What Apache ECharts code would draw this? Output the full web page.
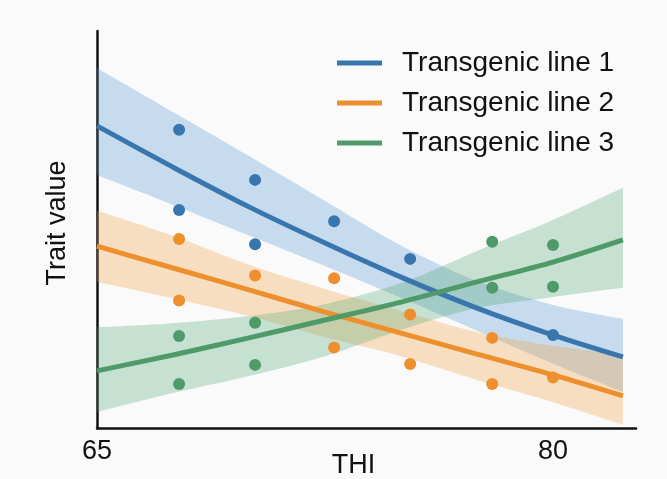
<!DOCTYPE html>
<html>
<head>
<meta charset="utf-8">
<script src="https://cdn.jsdelivr.net/npm/echarts@6/dist/echarts.min.js"></script>
<style>html,body{margin:0;padding:0;background:#ffffff}#c{width:667px;height:479px}</style>
</head>
<body>
<div id="c"></div>
<script>
// ---- data ----
const seriesNames = ['Transgenic line 1', 'Transgenic line 2', 'Transgenic line 3'];
const xTickLabels = [65, 80];
// x positions at which fitted curves and confidence bands are read
const fitX = [65, 67.5, 70, 72.5, 75, 77.5, 80, 82.3];

const fit1 = [7.61, 6.57, 5.57, 4.66, 3.80, 3.02, 2.34, 1.79];
const upper1 = [9.07, 7.96, 6.85, 5.72, 4.60, 3.70, 3.10, 2.75];
const lower1 = [6.37, 5.62, 4.85, 4.08, 3.28, 2.45, 1.62, 0.91];

const fit2 = [4.58, 4.03, 3.48, 2.92, 2.39, 1.86, 1.34, 0.81];
const upper2 = [5.47, 4.84, 4.11, 3.50, 2.95, 2.42, 2.07, 1.84];
const lower2 = [3.68, 3.27, 2.82, 2.29, 1.81, 1.21, 0.65, 0.08];

const fit3 = [1.44, 1.84, 2.27, 2.72, 3.17, 3.68, 4.18, 4.74];
const upper3 = [2.54, 2.64, 2.82, 3.12, 3.65, 4.46, 5.24, 6.05];
const lower3 = [0.40, 0.88, 1.31, 1.81, 2.47, 3.02, 3.30, 3.53];

// observed points
const pts1X = [67.7, 67.7, 70.2, 70.2, 72.8, 75.3, 80.0];
const pts1Y = [7.51, 5.49, 6.25, 4.63, 5.21, 4.26, 2.34];
const pts2X = [67.7, 67.7, 70.2, 72.8, 72.8, 75.3, 75.3, 78.0, 78.0, 80.0];
const pts2Y = [4.76, 3.21, 3.84, 3.77, 2.03, 2.86, 1.61, 2.27, 1.11, 1.27];
const pts3X = [67.7, 67.7, 70.2, 70.2, 78.0, 78.0, 80.0, 80.0];
const pts3Y = [2.32, 1.11, 2.65, 1.59, 4.69, 3.53, 4.61, 3.56];

// ---- styling ----
const lineColors = ['#3a76ae', '#ee8f2e', '#4e9a68'];
const bandColors = ['rgba(80,150,210,0.3)', 'rgba(245,160,60,0.3)', 'rgba(80,165,115,0.3)'];
const FONT = '"Liberation Sans", Arial, sans-serif';

const fits = [fit1, fit2, fit3];
const uppers = [upper1, upper2, upper3];
const lowers = [lower1, lower2, lower3];
const ptsX = [pts1X, pts2X, pts3X];
const ptsY = [pts1Y, pts2Y, pts3Y];

const zip = (xs, ys) => xs.map((x, i) => [x, ys[i]]);
// [y, x] order so that stacking happens on the y dimension
const zipYX = (xs, ys) => xs.map((x, i) => [ys[i], x]);

const series = [];
for (let k = 0; k < 3; k++) {
  series.push({
    name: 'band-lo-' + k, type: 'line', stack: 'band' + k, smooth: 0.3,
    data: zipYX(fitX, lowers[k]), encode: { x: 1, y: 0 }, symbol: 'none',
    lineStyle: { opacity: 0 }, silent: true, z: 1
  });
  series.push({
    name: 'band-hi-' + k, type: 'line', stack: 'band' + k, smooth: 0.3,
    data: zipYX(fitX, uppers[k].map((u, i) => +(u - lowers[k][i]).toFixed(3))), encode: { x: 1, y: 0 },
    symbol: 'none',
    lineStyle: { opacity: 0 }, areaStyle: { color: bandColors[k], opacity: 1 }, silent: true, z: 1
  });
}
for (let k = 0; k < 3; k++) {
  series.push({
    name: seriesNames[k], type: 'line', smooth: 0.3, data: zip(fitX, fits[k]),
    symbol: 'none', lineStyle: { width: 5, color: lineColors[k] },
    itemStyle: { color: lineColors[k] }, z: 3
  });
}
for (let k = 0; k < 3; k++) {
  series.push({
    name: 'pts-' + k, type: 'scatter', data: zip(ptsX[k], ptsY[k]),
    symbolSize: 12, itemStyle: { color: lineColors[k], opacity: 1 }, z: 4
  });
}

const chart = echarts.init(document.getElementById('c'), null, { renderer: 'canvas' });
chart.setOption({
  backgroundColor: '#fafafa',
  animation: false,
  grid: { left: 97, right: 31, top: 31, bottom: 51, containLabel: false, outerBoundsMode: 'none' },
  legend: {
    data: seriesNames,
    orient: 'vertical', left: 332, top: 44,
    icon: 'rect', itemWidth: 45, itemHeight: 5, itemGap: 12,
    textStyle: { fontSize: 28, lineHeight: 28, color: '#111', fontFamily: FONT, padding: [0, 0, 0, 15] }
  },
  xAxis: {
    type: 'value', min: 65, max: 82.73, interval: 5,
    name: 'THI', nameLocation: 'middle', nameGap: 24, nameMoveOverlap: false,
    nameTextStyle: { fontSize: 27, color: '#111', fontFamily: FONT, padding: [0, 26, 0, 0] },
    axisLine: { show: true, onZero: false, lineStyle: { color: '#111', width: 2.5 } },
    axisTick: { show: false },
    splitLine: { show: false },
    axisLabel: {
      fontSize: 27, color: '#111', fontFamily: FONT, margin: 10,
      showMaxLabel: false,
      formatter: v => xTickLabels.includes(Math.round(v)) ? String(Math.round(v)) : ''
    }
  },
  yAxis: {
    type: 'value', min: 0, max: 10,
    name: 'Trait value', nameLocation: 'middle', nameGap: 26, nameMoveOverlap: false,
    nameTextStyle: { fontSize: 27, color: '#111', fontFamily: FONT, padding: [0, 0, 0, 13] },
    axisLine: { show: true, onZero: false, lineStyle: { color: '#111', width: 2.5 } },
    axisTick: { show: false },
    axisLabel: { show: false },
    splitLine: { show: false }
  },
  series: series
});
</script>
</body>
</html>
